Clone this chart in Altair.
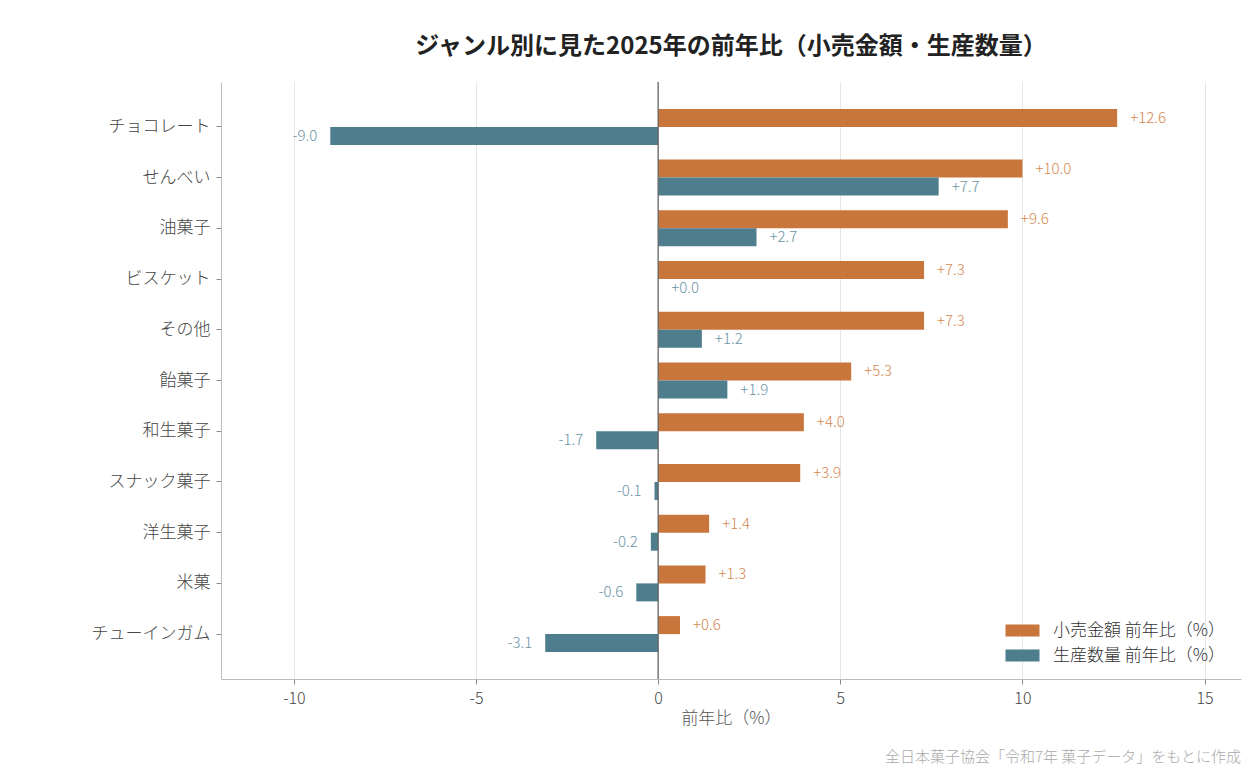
import altair as alt
import pandas as pd

categories = ["チョコレート", "せんべい", "油菓子", "ビスケット", "その他", "飴菓子",
              "和生菓子", "スナック菓子", "洋生菓子", "米菓", "チューインガム"]
retail = [12.6, 10.0, 9.6, 7.3, 7.3, 5.3, 4.0, 3.9, 1.4, 1.3, 0.6]
production = [-9.0, 7.7, 2.7, 0.0, 1.2, 1.9, -1.7, -0.1, -0.2, -0.6, -3.1]
series_names = ["小売金額 前年比（%）", "生産数量 前年比（%）"]
bar_colors = ["#c8763c", "#4e7d8e"]
label_colors = ["#d4894f", "#6b94a6"]
x_ticks = [-10, -5, 0, 5, 10, 15]
title_text = "ジャンル別に見た2025年の前年比（小売金額・生産数量）"
x_title = "前年比（%）"
note_text = "全日本菓子協会「令和7年 菓子データ」をもとに作成"

FONT = "Noto Sans CJK JP"
LIGHT = 300

rows = []
for c, r, p in zip(categories, retail, production):
    for s, v in zip(series_names, [r, p]):
        lab = ("+" if v >= 0 else "-") + f"{abs(v):.1f}"
        rows.append({"category": c, "series": s, "value": v, "label": lab})
df = pd.DataFrame(rows)

W, H = 1020, 597

y_enc = alt.Y("category:N", sort=categories, title=None,
              scale=alt.Scale(paddingInner=0.29, paddingOuter=0.53))
yoff = alt.YOffset("series:N", sort=series_names,
                   scale=alt.Scale(paddingInner=0, paddingOuter=0))
x_enc = alt.X("value:Q", title=x_title,
              scale=alt.Scale(domain=[-12, 16], nice=False, zero=False),
              axis=alt.Axis(values=x_ticks, grid=True, labelExpr="'' + datum.value"))

base = alt.Chart(df)

bars = base.mark_bar().encode(
    x=x_enc, y=y_enc, yOffset=yoff,
    color=alt.Color("series:N", sort=series_names,
                    scale=alt.Scale(domain=series_names, range=bar_colors),
                    legend=alt.Legend(title=None, orient="bottom-right",
                                      offset=15, labelLimit=400,
                                      symbolType="M-2,-0.72L2,-0.72L2,0.72L-2,0.72Z",
                                      symbolSize=289, symbolStrokeWidth=0,
                                      labelFontSize=17, labelColor="#333",
                                      labelFontWeight=LIGHT,
                                      labelOffset=22, rowPadding=7,
                                      labelFont=FONT)),
)

txt_color = alt.Color("series:N", sort=series_names,
                      scale=alt.Scale(domain=series_names, range=label_colors),
                      legend=None)

pos_text = base.transform_filter("datum.value >= 0").mark_text(
    align="left", baseline="middle", dx=13, fontSize=15, font=FONT, fontWeight=LIGHT
).encode(x="value:Q", y=y_enc, yOffset=yoff, text="label:N", color=txt_color)

neg_text = base.transform_filter("datum.value < 0").mark_text(
    align="right", baseline="middle", dx=-13, fontSize=15, font=FONT, fontWeight=LIGHT
).encode(x="value:Q", y=y_enc, yOffset=yoff, text="label:N", color=txt_color)

zero = alt.Chart(pd.DataFrame({"z": [0]})).mark_rule(
    color="#666", strokeWidth=1.3
).encode(x="z:Q")

note = alt.Chart(pd.DataFrame({"t": [note_text]})).mark_text(
    align="right", baseline="middle", fontSize=15, color="#aaaaaa", font=FONT,
    fontWeight=LIGHT
).encode(text="t:N", x=alt.value(W), y=alt.value(H + 78))

chart = alt.layer(bars, zero, pos_text, neg_text, note).resolve_scale(
    color="independent"
).properties(
    width=W, height=H,
    padding={"left": 83, "top": 27, "right": 11, "bottom": 5},
    title=alt.TitleParams(title_text, fontSize=24, fontWeight="bold",
                          color="#222", font=FONT, offset=22, anchor="middle"),
).configure_view(stroke=None).configure_axis(
    labelFont=FONT, titleFont=FONT, labelFontSize=16, labelColor="#444",
    labelFontWeight=LIGHT, titleFontWeight=LIGHT,
    titleFontSize=17, titleColor="#555", domainColor="#bbbbbb",
    tickColor="#888", gridColor="#e6e6e6", tickSize=5, labelPadding=6,
).configure_axisY(grid=False, labelPadding=6, tickSize=5, labelFontSize=17)

chart.save("out.html", embed_options={"renderer": "svg", "actions": False})
